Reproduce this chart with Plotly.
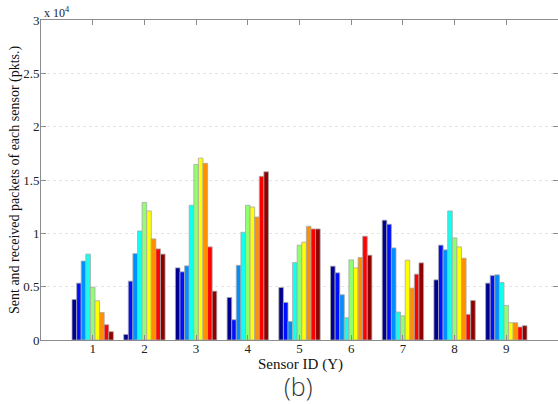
import plotly.graph_objects as go

# Sensor IDs on the x axis (Y) and one bar series per sending sensor (X)
sensor_ids = [1, 2, 3, 4, 5, 6, 7, 8, 9]
series_names = ["X=1", "X=2", "X=3", "X=4", "X=5", "X=6", "X=7", "X=8", "X=9"]

# packets per series, indexed by sensor ID 1..9
pkts_x1 = [3800, 520, 6760, 3990, 4920, 6920, 11230, 5640, 5330]
pkts_x2 = [5330, 5520, 6390, 1900, 3520, 6300, 10850, 8890, 6040]
pkts_x3 = [7400, 8100, 6950, 7000, 1740, 4240, 8630, 8450, 6110]
pkts_x4 = [8050, 10220, 12630, 10100, 7260, 2090, 2620, 12100, 5390]
pkts_x5 = [4950, 12900, 16460, 12630, 8890, 7510, 2270, 9570, 3240]
pkts_x6 = [3680, 12100, 17050, 12470, 9170, 6760, 7480, 8730, 1620]
pkts_x7 = [2580, 9480, 16560, 11530, 10660, 7730, 4860, 7670, 1620]
pkts_x8 = [1430, 8540, 8730, 15340, 10410, 9730, 6170, 2400, 1220]
pkts_x9 = [780, 8050, 4580, 15770, 10410, 7950, 7230, 3710, 1340]

all_series = [pkts_x1, pkts_x2, pkts_x3, pkts_x4, pkts_x5,
              pkts_x6, pkts_x7, pkts_x8, pkts_x9]

# jet colormap sampled at 9 evenly spaced points
jet_colors = [
    "rgb(0,0,143)", "rgb(0,16,255)", "rgb(0,143,255)", "rgb(16,255,239)",
    "rgb(143,255,112)", "rgb(255,255,0)", "rgb(255,143,0)", "rgb(255,0,0)",
    "rgb(143,0,0)",
]

y_ticks = [0, 5000, 10000, 15000, 20000, 25000, 30000]
y_tick_labels = ["0", "0.5", "1", "1.5", "2", "2.5", "3"]

serif = "Liberation Serif, Times New Roman, serif"

fig = go.Figure()
for name, vals, col in zip(series_names, all_series, jet_colors):
    fig.add_trace(go.Bar(
        x=sensor_ids, y=vals, name=name,
        marker=dict(color=col, line=dict(color="#a8a8a8", width=0.8)),
    ))

fig.update_layout(
    width=558, height=404,
    margin=dict(l=41, r=0, t=20, b=64),
    paper_bgcolor="white", plot_bgcolor="white",
    barmode="group", bargap=0.2, bargroupgap=0.0,
    showlegend=False,
    font=dict(family=serif, size=12, color="#222"),
)

fig.update_xaxes(
    range=[0, 10], tickmode="array", tickvals=sensor_ids,
    ticktext=[str(s) for s in sensor_ids],
    showgrid=False, zeroline=False,
    showline=True, linecolor="#8c8c8c", linewidth=1, mirror="ticks",
    ticks="inside", ticklen=5, tickcolor="#8c8c8c",
    ticklabelstandoff=-4,
    tickfont=dict(family=serif, size=13, color="#222"),
)
fig.update_yaxes(
    range=[0, 30000], tickmode="array", tickvals=y_ticks, ticktext=y_tick_labels,
    showgrid=True, gridcolor="#e4e4e4", griddash="dot", gridwidth=1,
    zeroline=False,
    showline=True, linecolor="#8c8c8c", linewidth=1, mirror="ticks",
    ticks="inside", ticklen=5, tickcolor="#8c8c8c",
    ticklabelstandoff=-2,
    tickfont=dict(family=serif, size=13, color="#222"),
)

fig.add_annotation(
    text="x 10<sup>4</sup>", xref="paper", yref="paper",
    x=0.0, y=1.0, xanchor="left", yanchor="bottom", showarrow=False,
    font=dict(family=serif, size=12, color="#222"), xshift=1, yshift=-2,
)
fig.add_annotation(
    text="Sent and received packets of each sensor (pkts.)",
    xref="paper", yref="paper", x=-26 / 517, y=0.5, textangle=-90,
    xanchor="center", yanchor="middle", showarrow=False,
    font=dict(family=serif, size=14, color="#111"),
)
fig.add_annotation(
    text="Sensor ID (Y)", xref="paper", yref="paper",
    x=(300 - 41) / 517, y=-24.5 / 320.5, xanchor="center", yanchor="middle",
    showarrow=False, font=dict(family=serif, size=15, color="#111"),
)
fig.add_annotation(
    text="(b)", xref="paper", yref="paper",
    x=(298 - 41) / 517, y=-46 / 320.5, xanchor="center", yanchor="middle",
    showarrow=False,
    font=dict(family="Open Sans, DejaVu Sans, sans-serif", size=25,
              color="#333", weight=300),
)

fig.write_html("out.html")
